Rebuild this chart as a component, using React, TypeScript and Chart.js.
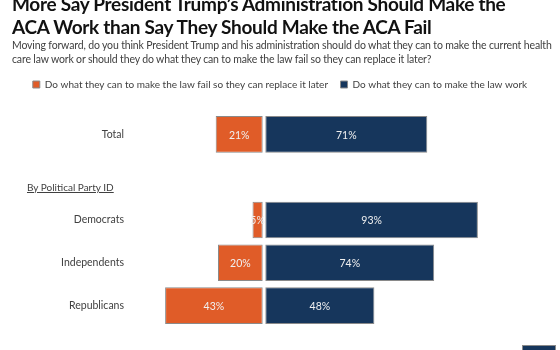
import React, { useEffect, useRef } from "react";
import { Chart, registerables } from "chart.js";

Chart.register(...registerables);

const categories = ["Total", "", "Democrats", "Independents", "Republicans"];
const failValues: (number | null)[] = [21, null, 5, 20, 43];
const workValues: (number | null)[] = [71, null, 93, 74, 48];
const seriesNames = [
  "Do what they can to make the law fail so they can replace it later",
  "Do what they can to make the law work",
];
const titleLines = [
  "More Say President Trump\u2019s Administration Should Make the",
  "ACA Work than Say They Should Make the ACA Fail",
];
const subtitleLines = [
  "Moving forward, do you think President Trump and his administration should do what they can to make the current health",
  "care law work or should they do what they can to make the law fail so they can replace it later?",
];
const groupLabel = "By Political Party ID";

const FONT = "Lato, 'Open Sans', sans-serif";
const ORANGE = "#E05C28";
const NAVY = "#16365C";

const gapPlugin = {
  id: "gapPlugin",
  afterDatasetsUpdate(chart: any) {
    chart.data.datasets.forEach((_ds: any, di: number) => {
      const meta = chart.getDatasetMeta(di);
      meta.data.forEach((el: any) => {
        if (di === 0) el.base -= 1.3;
        else el.base += 1.3;
      });
    });
  },
};

const labelPlugin = {
  id: "labelPlugin",
  afterDatasetsDraw(chart: any) {
    const ctx = chart.ctx;
    ctx.save();
    ctx.font = "10.5px " + FONT;
    ctx.fillStyle = "#f0f0f0";
    ctx.textAlign = "center";
    ctx.textBaseline = "middle";
    chart.data.datasets.forEach((ds: any, di: number) => {
      const meta = chart.getDatasetMeta(di);
      meta.data.forEach((el: any, i: number) => {
        const v = ds.data[i];
        if (v === null || v === undefined) return;
        ctx.fillText(Math.abs(v) + "%", (el.x + el.base) / 2, el.y + 1);
      });
    });
    ctx.restore();
  },
};

export default function App() {
  const ref = useRef<HTMLCanvasElement | null>(null);

  useEffect(() => {
    document.body.style.margin = "0";
    const canvas = ref.current;
    if (!canvas) return;
    const chart = new Chart(canvas, {
      type: "bar",
      data: {
        labels: categories,
        datasets: [
          {
            label: seriesNames[0],
            data: failValues.map((v) => (v === null ? null : -v)),
            backgroundColor: ORANGE,
            borderColor: "#8a8a8a",
            borderWidth: 1,
            borderSkipped: false,
          },
          {
            label: seriesNames[1],
            data: workValues,
            backgroundColor: NAVY,
            borderColor: "#8a8a8a",
            borderWidth: 1,
            borderSkipped: false,
          },
        ],
      },
      options: {
        indexAxis: "y",
        responsive: false,
        maintainAspectRatio: false,
        animation: false,
        devicePixelRatio: 1,
        layout: { padding: { left: 0, right: 0, top: 67, bottom: 23 } },
        datasets: { bar: { barPercentage: 1, categoryPercentage: 0.855 } },
        scales: {
          x: {
            display: true,
            position: "top",
            stacked: true,
            min: -60,
            max: 128.7,
            grid: { display: false, drawTicks: false },
            border: { display: false },
            ticks: { display: false },
            afterFit(scale: any) {
              scale.height = 13.5;
            },
          },
          y: {
            stacked: true,
            grid: { display: false, drawTicks: false },
            border: { display: false },
            ticks: { padding: 2, color: "#404040", font: { family: FONT, size: 10.5 } },
            afterFit(scale: any) {
              scale.width = 126;
            },
          },
        },
        plugins: {
          legend: {
            position: "top",
            labels: {
              boxWidth: 7,
              boxHeight: 7,
              padding: 12.5,
              color: "#404040",
              font: { family: FONT, size: 10 },
            },
          },
          tooltip: { enabled: false },
        },
      } as any,
      plugins: [gapPlugin, labelPlugin],
    });
    return () => chart.destroy();
  }, []);

  return (
    <div
      style={{
        position: "relative",
        width: 560,
        height: 350,
        overflow: "hidden",
        background: "#fff",
        fontFamily: FONT,
      }}
    >
      <canvas ref={ref} width={560} height={350} style={{ position: "absolute", left: 0, top: 0 }} />
      <div
        style={{
          position: "absolute",
          left: 12,
          top: -8,
          fontSize: 19,
          fontWeight: 700,
          letterSpacing: "-0.3px",
          lineHeight: "23px",
          color: "#111",
          whiteSpace: "nowrap",
        }}
      >
        {titleLines.map((t, i) => (
          <div key={i}>{t}</div>
        ))}
      </div>
      <div
        style={{
          position: "absolute",
          left: 12,
          top: 38,
          fontSize: 10.5,
          letterSpacing: "-0.15px",
          lineHeight: "14px",
          color: "#404040",
          whiteSpace: "nowrap",
        }}
      >
        {subtitleLines.map((t, i) => (
          <div key={i}>{t}</div>
        ))}
      </div>
      <div
        style={{
          position: "absolute",
          left: 27,
          top: 180,
          fontSize: 10,
          lineHeight: "14px",
          color: "#404040",
          textDecoration: "underline",
          whiteSpace: "nowrap",
        }}
      >
        {groupLabel}
      </div>
      <div
        style={{
          position: "absolute",
          left: 522,
          top: 345,
          width: 32,
          height: 8,
          background: NAVY,
          border: "1px solid #8a8a8a",
        }}
      />
    </div>
  );
}
